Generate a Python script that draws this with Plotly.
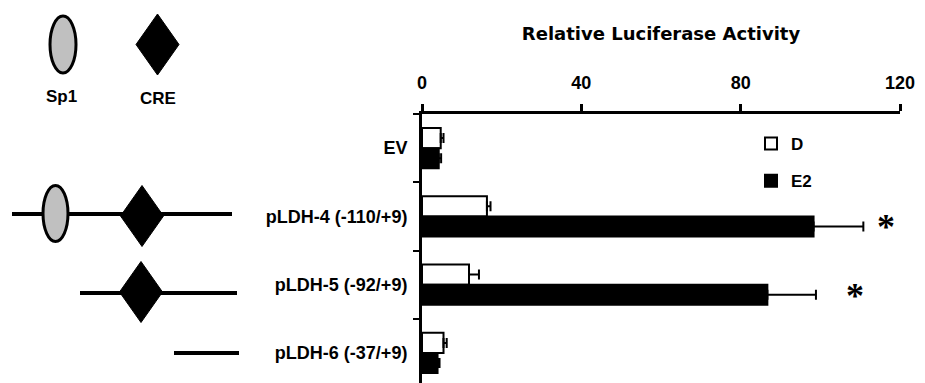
import plotly.graph_objects as go

# ---------------- data ----------------
categories = ["EV", "pLDH-4 (-110/+9)", "pLDH-5 (-92/+9)", "pLDH-6 (-37/+9)"]
d_values = [4.7, 16.3, 11.8, 5.4]
d_errors = [0.7, 0.9, 2.5, 0.8]
e2_values = [4.2, 98.3, 86.7, 3.9]
e2_errors = [0.6, 12.5, 12.2, 0.5]
x_ticks = [0, 40, 80, 120]
significant = ["pLDH-4 (-110/+9)", "pLDH-5 (-92/+9)"]
star_x = [116.6, 108.8]

# ---------------- geometry ----------------
W, H = 925, 383
L, R, T, B = 422, 25, 114, 0
PW, PH = W - L - R, H - T - B

FONT = "Liberation Sans, Arial, sans-serif"


def px(xp):
    return (xp - L) / PW


def py(yp):
    return (H - yp) / PH


fig = go.Figure()
fig.add_trace(go.Bar(
    name="D", y=categories, x=d_values, orientation="h",
    marker=dict(color="white", line=dict(color="black", width=2)),
    error_x=dict(type="data", array=d_errors, arrayminus=[0] * len(d_errors),
                 symmetric=False, color="black", thickness=2, width=5),
    legendgroup="D",
))
fig.add_trace(go.Bar(
    name="E2", y=categories, x=e2_values, orientation="h",
    marker=dict(color="black", line=dict(color="black", width=2)),
    error_x=dict(type="data", array=e2_errors, arrayminus=[0] * len(e2_errors),
                 symmetric=False, color="black", thickness=2, width=5),
    legendgroup="E2",
))

shapes = []
annotations = []


def ellipse(cx, cy, w, h):
    return dict(type="circle", xref="paper", yref="paper",
                x0=px(cx - w / 2), x1=px(cx + w / 2),
                y0=py(cy + h / 2), y1=py(cy - h / 2),
                fillcolor="#c0c0c0", line=dict(color="black", width=3), layer="above")


def diamond(cx, cy, w, h):
    path = (f"M {px(cx - w / 2)} {py(cy)} L {px(cx)} {py(cy - h / 2)} "
            f"L {px(cx + w / 2)} {py(cy)} L {px(cx)} {py(cy + h / 2)} Z")
    return dict(type="path", xref="paper", yref="paper", path=path,
                fillcolor="black", line=dict(color="black", width=1), layer="above")


def hline(x0, x1, y):
    return dict(type="line", xref="paper", yref="paper",
                x0=px(x0), x1=px(x1), y0=py(y), y1=py(y),
                line=dict(color="black", width=4), layer="below")


# diagram key (top left)
shapes.append(ellipse(63, 44.5, 26, 57))
shapes.append(diamond(157.5, 44.5, 43, 61))
for label, lx, ly in [("Sp1", 61, 97), ("CRE", 158, 99)]:
    annotations.append(dict(text=label, x=px(lx), y=py(ly), xref="paper", yref="paper",
                            xanchor="center", yanchor="middle", showarrow=False,
                            font=dict(family=FONT, size=17, color="black", weight="bold")))

# pLDH-4 construct
shapes.append(hline(12, 232, 214))
shapes.append(ellipse(55.5, 213.5, 25, 56))
shapes.append(diamond(142, 216, 43, 61))
# pLDH-5 construct
shapes.append(hline(80, 237, 293))
shapes.append(diamond(141, 292, 43, 61))
# pLDH-6 construct
shapes.append(hline(174, 239, 353))

# significance stars
for cat, sx in zip(significant, star_x):
    annotations.append(dict(text="*", x=sx, y=cat, xref="x", yref="y",
                            showarrow=False, yshift=-11,
                            font=dict(family="Liberation Serif, Times New Roman, serif",
                                      size=36, color="black")))

fig.update_layout(
    width=W, height=H,
    margin=dict(l=L, r=R, t=T, b=B, autoexpand=False),
    paper_bgcolor="white", plot_bgcolor="white",
    barmode="group", bargap=0.41, bargroupgap=0,
    font=dict(family=FONT, size=18, color="black", weight="bold"),
    showlegend=True,
    legend=dict(x=px(751), y=py(126), xref="paper", yref="paper",
                xanchor="left", yanchor="top",
                font=dict(family=FONT, size=17, color="black", weight="bold"),
                traceorder="grouped", tracegroupgap=12,
                bgcolor="rgba(0,0,0,0)", borderwidth=0),
    shapes=shapes,
    annotations=annotations,
)

fig.update_xaxes(
    side="top", range=[0, 120], tickmode="array", tickvals=x_ticks,
    ticktext=[str(v) for v in x_ticks],
    ticks="outside", ticklen=7, tickwidth=3, tickcolor="black",
    showline=True, linewidth=3, linecolor="black",
    showgrid=False, zeroline=False, automargin=False,
    tickfont=dict(family=FONT, size=18, color="black", weight="bold"),
    ticklabelstandoff=8,
    title=dict(text="Relative Luciferase Activity", standoff=28,
               font=dict(family="DejaVu Sans, sans-serif", size=18, color="black", weight="bold")),
)
fig.update_yaxes(
    type="category", categoryorder="array", categoryarray=categories,
    range=[3.44, -0.5], tickson="boundaries",
    ticks="outside", ticklen=6, tickwidth=2, tickcolor="black",
    showline=True, linewidth=3, linecolor="black",
    showgrid=False, zeroline=False, automargin=False,
    tickfont=dict(family=FONT, size=18, color="black", weight="bold"),
    ticklabelstandoff=8,
)

fig.write_html("out.html")
